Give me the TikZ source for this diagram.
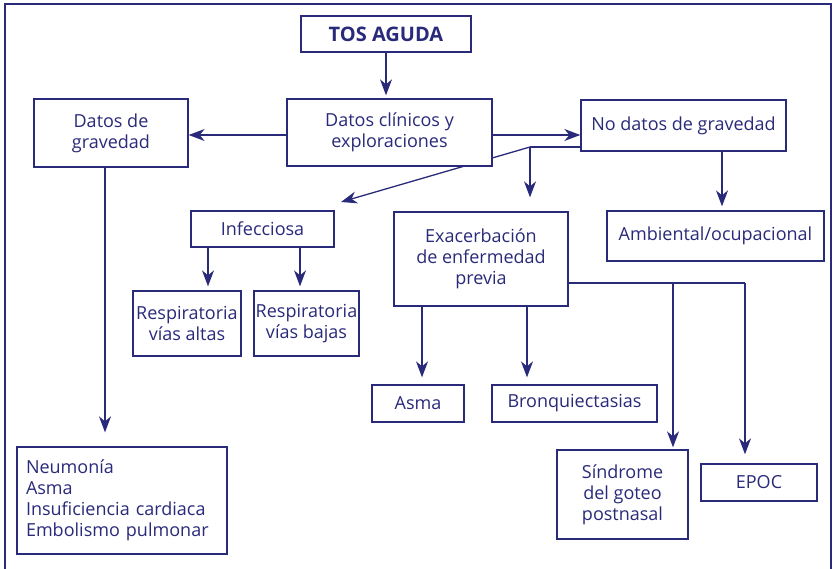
\documentclass[tikz,border=0pt]{standalone}
\usepackage{fontspec}
\setmainfont{Open Sans}
\usetikzlibrary{arrows.meta}
\definecolor{navy}{RGB}{42,42,122}
\pgfdeclarelayer{background}
\pgfsetlayers{background,main}
\begin{document}
\begin{tikzpicture}[x=1pt,y=-1pt,
  box/.style={draw=navy, line width=1.3pt, fill=white, text=navy,
    font=\fontsize{18}{21}\selectfont, align=center, inner sep=0pt},
  arr/.style={draw=navy, line width=1.3pt, -{Stealth[length=16pt,width=12pt,inset=5pt]}},
  ln/.style={draw=navy, line width=1.3pt}]
\useasboundingbox (0,0) rectangle (834,569);
\draw[navy, line width=2.5pt] (5,569) -- (5,4) -- (831,4) -- (831,569);

% helper coordinates
\coordinate (h1) at (0,135);
\coordinate (jn) at (530,147);
\coordinate (dt) at (341,202);
\coordinate (h3) at (0,283);
\coordinate (x105) at (105,0);
\coordinate (x208) at (208,0);
\coordinate (x300) at (300,0);
\coordinate (x386) at (386,0);
\coordinate (x422) at (422,0);
\coordinate (x527) at (527,0);
\coordinate (x673) at (673,0);
\coordinate (x722) at (722,0);
\coordinate (x745) at (745,0);

% nodes
\node[box, minimum width=170pt, minimum height=36pt, font=\fontsize{20}{22}\selectfont\bfseries] (tos) at (386,34) {TOS AGUDA};
\node[box, minimum width=205pt, minimum height=67pt] (dc) at (389.5,132.5) {Datos clínicos y\\exploraciones};
\node[box, minimum width=205pt, minimum height=51pt] (ndg) at (683.5,125.5) {No datos de gravedad};
\node[box, minimum width=154pt, minimum height=68pt] (dg) at (111,133) {Datos de\\gravedad};
\node[box, minimum width=143pt, minimum height=36pt] (inf) at (262.5,229) {Infecciosa};
\node[box, minimum width=108pt, minimum height=65pt] (rva) at (187,323.5) {Respiratoria\\vías altas};
\node[box, minimum width=105pt, minimum height=65pt] (rvb) at (306.5,323.5) {Respiratoria\\vías bajas};
\node[box, minimum width=174pt, minimum height=94pt] (exa) at (481,259) {Exacerbación\\de enfermedad\\previa};
\node[box, minimum width=92pt, minimum height=37pt] (asma) at (418,403.5) {Asma};
\node[box, minimum width=165pt, minimum height=37pt] (bron) at (574.5,403.5) {Bronquiectasias};
\node[box, minimum width=217pt, minimum height=50pt] (amb) at (715.5,236) {Ambiental/ocupacional};
\node[box, text width=192pt, inner xsep=9pt, minimum height=107pt, align=left] (neu) at (122,500.5) {Neumonía\\Asma\\Insuficiencia cardiaca\\Embolismo pulmonar};
\node[box, minimum width=131pt, minimum height=89pt] (sin) at (622.5,494.5) {Síndrome\\del goteo\\postnasal};
\node[box, minimum width=116pt, minimum height=37pt] (epoc) at (759,482.5) {EPOC};

% connectors, behind the boxes
\begin{pgfonlayer}{background}
\draw[arr, shorten >=3pt] (x386 |- tos.south) -- (x386 |- dc.north);
\draw[arr] (dc.east |- h1) -- (ndg.west |- h1);
\draw[arr] (dc.west |- h1) -- (dg.east |- h1);
\draw[ln] (ndg.west |- jn) -- (jn);
\draw[arr, shorten >=14pt] (jn) -- (jn |- exa.north);
\draw[arr] (jn) -- (dt);
\draw[arr, shorten >=4pt] (x722 |- ndg.south) -- (x722 |- amb.north);
\draw[arr, shorten >=14pt] (x105 |- dg.south) -- (x105 |- neu.north);
\draw[arr, shorten >=4pt] (x208 |- inf.south) -- (x208 |- rva.north);
\draw[arr, shorten >=4pt] (x300 |- inf.south) -- (x300 |- rvb.north);
\draw[arr, shorten >=7pt] (x422 |- exa.south) -- (x422 |- asma.north);
\draw[arr, shorten >=7pt] (x527 |- exa.south) -- (x527 |- bron.north);
\draw[ln] (exa.east |- h3) -- (x745 |- h3);
\draw[arr, shorten >=2pt] (x673 |- h3) -- (x673 |- sin.north);
\draw[arr, shorten >=9pt] (x745 |- h3) -- (x745 |- epoc.north);
\end{pgfonlayer}
\end{tikzpicture}
\end{document}
